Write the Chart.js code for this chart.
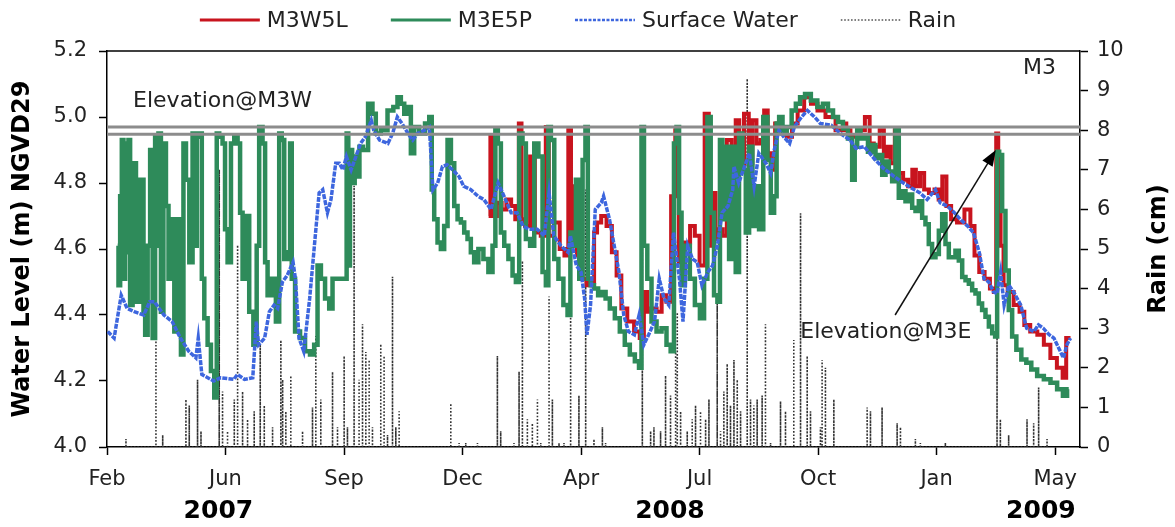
<!DOCTYPE html>
<html>
<head>
<meta charset="utf-8">
<script src="https://cdn.jsdelivr.net/npm/chart.js@4.4.0/dist/chart.umd.min.js"></script>
<style>
  html, body { margin: 0; padding: 0; background: #fff; }
  #wrap { width: 1175px; height: 527px; }
</style>
</head>
<body>
<div id="wrap"><canvas id="chart" width="1175" height="527"></canvas></div>
<script>
// x values are days counted from 27 Feb 2007, ticks every 100 days
const xMax = 821;
const monthDays = [0, 100, 200, 300, 400, 500, 600, 700, 800];
const monthLabels = ['Feb', 'Jun', 'Sep', 'Dec', 'Apr', 'Jul', 'Oct', 'Jan', 'May'];
const yearLabels = ['2007', '2008', '2009'];
const yearDays = [94, 475, 788];

// ground elevation at the two wells (m NGVD29)
const elevM3W = 4.970;
const elevM3E = 4.948;

// M3W5L well
const m3w5lDays = [322, 325, 327, 331, 335, 339, 343, 346, 349, 350.5, 355, 359, 363, 369, 371.5, 374, 380, 384, 388, 390.5,
  392.5, 395, 398, 404, 405, 410, 412, 415, 419, 424, 428, 432, 436, 442, 447.5, 451.5, 454.5, 457, 461.5, 466,
  470, 474, 478, 481, 484, 490, 494, 498, 502, 506.6, 509, 512, 515, 518, 521, 525, 529, 532, 535, 540,
  543, 546, 550, 553, 556, 559, 561.5, 566, 571, 576, 580, 585.5, 591, 597, 602, 610.5, 619, 623, 624.6, 630,
  636, 643, 644, 650, 654, 657, 660, 662.5, 667, 669.5, 674, 678, 681, 684, 688, 691, 696, 700.5, 703, 706.6,
  710, 714.5, 720, 727, 730, 734, 738, 743, 747, 749.6, 751, 753, 755, 758, 762, 768, 772, 776, 782, 788,
  793, 799, 804, 808.7, 810, 813];
const m3w5lLevels = [4.70, 4.94, 4.70, 4.74, 4.72, 4.75, 4.73, 4.69, 4.98, 4.69, 4.67, 4.88, 4.65, 4.64, 4.97, 4.64, 4.68, 4.60, 4.58, 4.96,
  4.61, 4.79, 4.58, 4.51, 4.49, 4.50, 4.65, 4.68, 4.70, 4.67, 4.59, 4.52, 4.42, 4.38, 4.35, 4.33, 4.47, 4.41, 4.42, 4.41,
  4.46, 4.44, 4.76, 4.96, 4.56, 4.62, 4.67, 4.64, 4.55, 5.01, 4.61, 4.77, 4.63, 4.66, 4.64, 4.93, 4.82, 4.99, 4.84, 5.01,
  4.86, 4.99, 4.92, 4.93, 5.02, 4.89, 4.84, 4.98, 4.96, 4.94, 4.98, 5.02, 5.06, 5.04, 5.02, 5.00, 4.96, 4.98, 4.96, 4.94,
  4.96, 5.00, 4.92, 4.91, 4.96, 4.88, 4.91, 4.86, 4.96, 4.83, 4.81, 4.79, 4.84, 4.79, 4.83, 4.78, 4.77, 4.78, 4.75, 4.82,
  4.73, 4.69, 4.68, 4.72, 4.67, 4.58, 4.53, 4.51, 4.48, 4.47, 4.95, 4.71, 4.61, 4.49, 4.47, 4.43, 4.41, 4.37, 4.35, 4.34,
  4.31, 4.27, 4.24, 4.21, 4.33, 4.33];

// M3E5P well
const m3e5pDays = [9, 10.4, 11.8, 13.2, 14.6, 16, 17.4, 18.8, 20.2, 23, 25.9, 30.1, 31.5, 32.9, 35.7, 37.1, 39.9, 41.3, 42.7, 44.1,
  46.9, 48.3, 51.2, 52.6, 55.4, 58.2, 61, 63.8, 65.2, 68.1, 70.8, 73.6, 75, 76.5, 79.3, 80.7, 83.5, 86.3, 89.1, 91.9,
  93.3, 96.1, 98.9, 100.3, 103.2, 106, 108.8, 111.6, 113, 115.8, 118.6, 121.4, 125.6, 127, 129.8, 132.7, 134.1, 136.9, 141.1, 143.9,
  146.7, 148.2, 150.9, 153.8, 155.2, 156.6, 160.8, 165, 169.2, 173.4, 176.2, 179.1, 181.9, 186.1, 188.9, 191.7, 197.3, 201.5, 202.9, 204.3,
  205.7, 208, 210, 212, 214, 218, 222.6, 225.4, 228.2, 233.9, 239.5, 243.7, 246.5, 249.4, 252.2, 255, 257.8, 260.6, 266.2, 270.5,
  273.3, 274.7, 277.5, 280.3, 283.1, 285.9, 288.8, 291.6, 294.4, 297.2, 300, 302.8, 305.6, 308.4, 311.2, 315.5, 319.7, 323.9, 326.7, 328.7,
  330.9, 333.8, 336.6, 340.8, 343.6, 346.4, 349.2, 352, 354.9, 359.1, 361.9, 366.1, 368.9, 371.7, 373.1, 376, 378.8, 383, 387.2, 390,
  392, 394.2, 397.1, 399.9, 402.7, 404.7, 406.7, 409.5, 412.3, 416.5, 419.3, 422.1, 426.4, 430.6, 434.8, 439, 443.3, 447.5, 450.3, 451.7,
  454.5, 457.3, 461.6, 465.8, 470, 474.2, 477, 479.8, 481.3, 484.1, 485.5, 489.7, 493.9, 498.2, 502.4, 505.2, 508, 510.8, 513.6, 516.5,
  517.9, 520.7, 523.5, 526.3, 529.1, 531.9, 534.7, 537.6, 540.4, 543.2, 546, 548.8, 551.6, 555.9, 558.7, 561.5, 564.3, 565.7, 568.6, 571.4,
  575.6, 579.8, 582.7, 586.9, 591.1, 596.7, 602, 606.2, 610.5, 614.7, 618.9, 623.1, 627.3, 630.2, 631.6, 634.4, 637.2, 640, 644.2, 647,
  649.9, 652.7, 655.5, 658.3, 661.1, 663.9, 666.7, 669.5, 672.3, 675.2, 678, 680.8, 683.6, 686.4, 689.2, 692, 694.8, 697.6, 700.5, 703.3,
  706.1, 708.9, 711.7, 714.5, 717.3, 720.2, 723, 725.8, 728.6, 731.4, 734.2, 737, 739.8, 742.7, 745.5, 748.3, 750.5, 751.7, 753.9, 756.7,
  759.5, 762.3, 765.2, 769.4, 773.6, 777.8, 782, 787.7, 793.3, 798.9, 804.5, 808.7, 811.5];
const m3e5pLevels = [4.61, 4.49, 4.76, 4.93, 4.51, 4.92, 4.59, 4.93, 4.43, 4.86, 4.44, 4.81, 4.41, 4.34, 4.61, 4.90, 4.33, 4.94, 4.61, 4.95,
  4.41, 4.92, 4.73, 4.51, 4.69, 4.35, 4.69, 4.28, 4.92, 4.81, 4.56, 4.95, 4.61, 4.94, 4.95, 4.51, 4.39, 4.31, 4.23, 4.15,
  4.95, 4.94, 4.92, 4.66, 4.56, 4.92, 4.94, 4.92, 4.71, 4.51, 4.70, 4.41, 4.31, 4.61, 4.97, 4.92, 4.56, 4.46, 4.51, 4.38,
  4.95, 4.93, 4.57, 4.59, 4.92, 4.51, 4.35, 4.33, 4.29, 4.28, 4.31, 4.55, 4.51, 4.45, 4.42, 4.51, 4.51, 4.51, 4.95, 4.55,
  4.90, 4.80, 4.88, 4.82, 4.91, 4.90, 5.04, 5.01, 4.95, 4.96, 5.02, 5.03, 5.06, 5.04, 5.01, 5.03, 4.89, 4.97, 4.95, 4.98,
  5.00, 4.78, 4.69, 4.62, 4.60, 4.67, 4.93, 4.86, 4.73, 4.69, 4.68, 4.65, 4.63, 4.59, 4.56, 4.60, 4.57, 4.53, 4.61, 4.96,
  4.92, 4.65, 4.61, 4.57, 4.52, 4.50, 4.95, 4.92, 4.63, 4.61, 4.92, 4.88, 4.53, 4.49, 4.97, 4.93, 4.57, 4.51, 4.43, 4.40,
  4.65, 4.61, 4.81, 4.51, 4.87, 4.97, 4.51, 4.49, 4.48, 4.46, 4.47, 4.45, 4.42, 4.39, 4.35, 4.31, 4.28, 4.26, 4.24, 4.97,
  4.61, 4.51, 4.38, 4.35, 4.36, 4.31, 4.29, 4.92, 4.97, 4.71, 4.49, 4.61, 4.51, 4.43, 4.39, 4.51, 5.00, 4.71, 4.46, 4.44,
  4.93, 4.69, 4.91, 4.57, 4.91, 4.53, 4.95, 4.84, 4.65, 4.91, 4.67, 4.79, 4.66, 5.00, 4.87, 4.71, 4.76, 4.98, 5.00, 4.95,
  4.97, 5.02, 5.04, 5.06, 5.07, 5.05, 5.03, 5.04, 5.02, 5.00, 4.985, 4.965, 4.935, 4.81, 4.91, 4.965, 4.935, 4.945, 4.895, 4.915,
  4.875, 4.885, 4.825, 4.865, 4.835, 4.805, 4.965, 4.755, 4.775, 4.745, 4.765, 4.725, 4.715, 4.745, 4.695, 4.675, 4.615, 4.575, 4.585, 4.655,
  4.705, 4.615, 4.575, 4.575, 4.595, 4.565, 4.515, 4.505, 4.495, 4.475, 4.465, 4.435, 4.415, 4.395, 4.365, 4.345, 4.335, 4.895, 4.885, 4.715,
  4.535, 4.415, 4.335, 4.295, 4.265, 4.255, 4.235, 4.215, 4.205, 4.195, 4.175, 4.155, 4.175];

// surface water stage
const surfaceDays = [0.6, 6, 12, 17, 23, 31, 36, 40, 44, 48, 55, 62, 69, 75, 77, 80, 90, 96, 107, 110,
  116, 123, 126, 128, 133, 137, 141, 144, 148, 152, 157, 159, 162, 166, 171, 175, 179, 182, 186, 189,
  193, 196, 199, 202, 206, 210, 214, 218, 223, 225, 230, 237, 241, 245, 249, 254, 258, 262, 268, 272,
  275, 279, 283, 287, 293, 297, 301, 307, 313, 318, 324, 330, 335, 341, 346, 351, 356, 363, 369, 373,
  377, 383, 389, 391, 396, 400, 403, 405, 408, 412, 417, 419, 424, 428, 432, 436, 440, 445, 449, 453,
  457, 462, 466, 470, 474, 478, 483, 486, 490, 494, 498, 502, 507, 511, 515, 519, 524, 528, 529, 533,
  538, 542, 546, 550, 556, 560, 563, 567, 571, 576, 580, 586, 591, 597, 602, 611, 619, 627, 632, 639,
  647, 655, 664, 672, 681, 686, 692, 699, 703, 709, 715, 720, 726, 731, 736, 740, 744, 748, 751, 754,
  757, 761, 765, 771, 776, 782, 786, 790, 795, 799, 803, 807, 810, 813];
const surfaceLevels = [4.35, 4.33, 4.46, 4.42, 4.41, 4.40, 4.44, 4.44, 4.42, 4.40, 4.38, 4.33, 4.29, 4.27, 4.33, 4.22, 4.20, 4.21, 4.205, 4.22,
  4.205, 4.21, 4.38, 4.31, 4.33, 4.41, 4.43, 4.42, 4.50, 4.52, 4.56, 4.51, 4.33, 4.29, 4.45, 4.61, 4.77, 4.78, 4.71, 4.75,
  4.86, 4.86, 4.84, 4.88, 4.84, 4.88, 4.92, 4.94, 4.99, 4.96, 4.93, 4.92, 4.95, 5.00, 4.98, 4.95, 4.93, 4.95, 4.96, 4.97,
  4.78, 4.80, 4.85, 4.855, 4.835, 4.82, 4.79, 4.78, 4.76, 4.75, 4.72, 4.80, 4.76, 4.71, 4.71, 4.67, 4.66, 4.66, 4.64, 4.77,
  4.64, 4.61, 4.59, 4.64, 4.55, 4.53, 4.45, 4.34, 4.43, 4.72, 4.74, 4.76, 4.69, 4.61, 4.53, 4.40, 4.35, 4.34, 4.40, 4.31,
  4.34, 4.38, 4.51, 4.45, 4.43, 4.65, 4.51, 4.38, 4.61, 4.57, 4.56, 4.49, 4.53, 4.55, 4.61, 4.71, 4.73, 4.78, 4.85, 4.80,
  4.85, 4.89, 4.79, 4.89, 4.86, 4.83, 4.90, 4.96, 4.94, 4.92, 4.97, 5.00, 5.02, 5.00, 4.98, 4.975, 4.95, 4.93, 4.905, 4.91,
  4.875, 4.845, 4.82, 4.80, 4.78, 4.77, 4.75, 4.78, 4.74, 4.73, 4.71, 4.69, 4.67, 4.65, 4.59, 4.51, 4.50, 4.47, 4.465, 4.53,
  4.43, 4.49, 4.47, 4.43, 4.36, 4.35, 4.37, 4.36, 4.34, 4.33, 4.30, 4.27, 4.31, 4.33];

// daily rain (cm)
const rainDays = [16, 41.3, 47, 66.6, 69.4, 76.4, 79.3, 94.7, 97.5, 101.7, 107.4, 110.2, 114.4, 118.6, 124.2, 129.3, 132.7, 139.7, 146.7, 148.2,
  150.9, 155.1, 165, 173.4, 176.2, 180.4, 190.3, 194.5, 200.1, 202.9, 208.5, 212.7, 215.6, 218.4, 221.2, 224, 231, 233.8, 236.7, 240.9,
  243.7, 246.5, 290.1, 297.1, 302.7, 312.6, 329.4, 332.2, 343.4, 347.7, 350.5, 354.7, 358.9, 363.2, 366, 373, 375.8, 381.4, 385.6, 391.2,
  398.2, 403.9, 410.9, 418, 420.7, 451.7, 458.7, 461.5, 467.1, 471.3, 475.5, 479.8, 481.2, 484, 489.6, 493.8, 496.6, 500.8, 505.1, 507.9,
  514.9, 517.7, 520.5, 523.3, 526.1, 529, 531.8, 534.6, 540.2, 543, 545.8, 548.6, 552.8, 555.6, 559.9, 568.3, 572.5, 579.5, 585.2, 590.8,
  593.6, 602, 603.4, 606.2, 613.3, 641.4, 644.2, 654, 666.7, 669.5, 682.1, 686.3, 707.4, 751, 753.8, 760.8, 776.3, 781.9, 786.1, 793.2];
const rainCm = [0.2, 2.9, 0.3, 1.2, 1.05, 1.7, 0.4, 7.0, 1.4, 0.4, 1.2, 5.1, 1.4, 0.7, 0.9, 2.6, 1.05, 0.5, 2.7, 1.7,
  0.9, 1.8, 0.4, 1.0, 2.8, 1.2, 1.9, 0.5, 2.3, 0.5, 6.6, 1.7, 3.1, 2.4, 2.2, 0.5, 2.6, 2.3, 0.3, 4.3,
  0.5, 0.9, 1.1, 0.1, 0.1, 0.1, 2.3, 0.4, 0.1, 1.9, 4.7, 0.7, 0.6, 1.2, 0.1, 3.8, 1.2, 0.1, 0.1, 4.4,
  1.3, 6.5, 0.2, 0.5, 0.1, 5.2, 0.4, 0.5, 0.4, 1.8, 1.3, 2.4, 3.4, 0.9, 0.4, 0.7, 1.05, 0.9, 0.7, 1.2,
  3.7, 0.4, 1.4, 2.1, 1.05, 2.2, 1.7, 0.9, 9.3, 1.2, 1.05, 1.2, 1.3, 3.1, 0.1, 1.15, 0.9, 2.7, 5.9, 2.3,
  0.9, 0.5, 2.2, 2.0, 1.2, 1.0, 0.9, 1.0, 0.6, 0.5, 0.2, 0.1, 0.1, 6.8, 0.7, 0.3, 0.7, 0.6, 1.5, 0.2];

const FONT = '"DejaVu Sans", Verdana, sans-serif';

function toPoints(days, values) {
  return days.map((d, i) => ({ x: d, y: values[i] }));
}

// each rain day is drawn as a drop line from zero
function toSpikes(days, values) {
  const pts = [];
  days.forEach((d, i) => {
    pts.push({ x: d, y: 0 }, { x: d, y: values[i] }, { x: d, y: 0 });
  });
  return pts;
}

// legend, frame, notes and year labels
const decorPlugin = {
  id: 'decor',
  afterDatasetsDraw(chart) {
    const { ctx, chartArea: area, scales: { x, y } } = chart;
    ctx.save();

    // top edge of the frame
    ctx.strokeStyle = '#000';
    ctx.lineWidth = 1.5;
    ctx.beginPath();
    ctx.moveTo(area.left, area.top);
    ctx.lineTo(area.right, area.top);
    ctx.stroke();

    ctx.fillStyle = '#222';
    ctx.font = '22px ' + FONT;
    ctx.textBaseline = 'middle';
    ctx.textAlign = 'left';
    ctx.fillText('Elevation@M3W', x.getPixelForValue(22), y.getPixelForValue(5.048));
    ctx.fillText('Elevation@M3E', x.getPixelForValue(585), y.getPixelForValue(4.348));
    ctx.textAlign = 'right';
    ctx.fillText('M3', area.right - 24, area.top + 17);

    // arrow to the M3E elevation
    const x0 = x.getPixelForValue(665), y0 = y.getPixelForValue(4.40);
    const x1 = x.getPixelForValue(750), y1 = y.getPixelForValue(4.90);
    const ang = Math.atan2(y1 - y0, x1 - x0);
    ctx.strokeStyle = '#111';
    ctx.lineWidth = 1.5;
    ctx.beginPath();
    ctx.moveTo(x0, y0);
    ctx.lineTo(x1 - 10 * Math.cos(ang), y1 - 10 * Math.sin(ang));
    ctx.stroke();
    ctx.fillStyle = '#000';
    ctx.beginPath();
    ctx.moveTo(x1, y1);
    ctx.lineTo(x1 - 16 * Math.cos(ang) + 6 * Math.sin(ang), y1 - 16 * Math.sin(ang) - 6 * Math.cos(ang));
    ctx.lineTo(x1 - 16 * Math.cos(ang) - 6 * Math.sin(ang), y1 - 16 * Math.sin(ang) + 6 * Math.cos(ang));
    ctx.closePath();
    ctx.fill();
    ctx.restore();
  },
  afterDraw(chart) {
    const { ctx, chartArea: area, scales: { x } } = chart;
    ctx.save();

    // years under the month ticks
    ctx.fillStyle = '#000';
    ctx.font = 'bold 25px ' + FONT;
    ctx.textAlign = 'center';
    ctx.textBaseline = 'middle';
    yearLabels.forEach((t, i) => ctx.fillText(t, x.getPixelForValue(yearDays[i]), area.bottom + 64));

    // right axis title, reading bottom to top like the left one
    ctx.font = 'bold 24px ' + FONT;
    ctx.translate(1159, (area.top + area.bottom) / 2);
    ctx.rotate(-Math.PI / 2);
    ctx.fillText('Rain (cm)', 0, 0);
    ctx.restore();

    // legend along the top
    ctx.save();
    ctx.font = '22px ' + FONT;
    ctx.textBaseline = 'middle';
    ctx.textAlign = 'left';
    const items = chart.data.datasets.filter(ds => !ds.noLegend);
    const sample = 60, gap = 7, spacing = 43;
    const widths = items.map(ds => sample + gap + ctx.measureText(ds.label).width);
    const total = widths.reduce((a, b) => a + b, 0) + spacing * (items.length - 1);
    let lx = 578 - total / 2;
    const ly = 20;
    items.forEach((ds, i) => {
      ctx.strokeStyle = ds.legendColor || ds.borderColor;
      ctx.lineWidth = ds.legendWidth || ds.borderWidth;
      ctx.setLineDash(ds.legendDash || ds.borderDash || []);
      ctx.beginPath();
      ctx.moveTo(lx, ly);
      ctx.lineTo(lx + sample, ly);
      ctx.stroke();
      ctx.setLineDash([]);
      ctx.fillStyle = '#222';
      ctx.fillText(ds.label, lx + sample + gap, ly + 1);
      lx += widths[i] + spacing;
    });
    ctx.restore();
  }
};

const tickFont = { family: FONT, size: 21 };

new Chart(document.getElementById('chart'), {
  type: 'line',
  data: {
    datasets: [
      {
        label: 'M3W5L',
        data: toPoints(m3w5lDays, m3w5lLevels),
        borderColor: '#c8141e',
        borderWidth: 4,
        stepped: 'middle',
        legendWidth: 3,
        order: 2,
        yAxisID: 'y'
      },
      {
        label: 'M3E5P',
        data: toPoints(m3e5pDays, m3e5pLevels),
        borderColor: '#2e8b5a',
        borderWidth: 4.5,
        stepped: 'middle',
        legendWidth: 3,
        order: 1,
        yAxisID: 'y'
      },
      {
        label: 'Surface Water',
        data: toPoints(surfaceDays, surfaceLevels),
        borderColor: '#3d66de',
        borderWidth: 3.5,
        borderDash: [5, 1.2],
        legendDash: [3, 1.5],
        legendWidth: 2.5,
        order: 0,
        yAxisID: 'y'
      },
      {
        label: 'Rain',
        data: toSpikes(rainDays, rainCm),
        borderColor: '#333',
        legendColor: '#555',
        borderWidth: 1.6,
        legendWidth: 1.5,
        borderDash: [1.6, 1.8],
        order: 3,
        yAxisID: 'y1'
      },
      {
        label: 'Elevation@M3W',
        noLegend: true,
        data: [{ x: 0, y: elevM3W }, { x: xMax, y: elevM3W }],
        borderColor: '#8c8c8c',
        borderWidth: 3,
        order: -1,
        yAxisID: 'y'
      },
      {
        label: 'Elevation@M3E',
        noLegend: true,
        data: [{ x: 0, y: elevM3E }, { x: xMax, y: elevM3E }],
        borderColor: '#8c8c8c',
        borderWidth: 3,
        order: -1,
        yAxisID: 'y'
      }
    ]
  },
  options: {
    responsive: false,
    animation: false,
    devicePixelRatio: 1,
    layout: { padding: { top: 51, left: 0, right: 0, bottom: 0 } },
    elements: {
      point: { radius: 0 },
      line: { tension: 0, fill: false }
    },
    plugins: {
      legend: { display: false },
      tooltip: { enabled: false }
    },
    scales: {
      x: {
        type: 'linear',
        min: 0,
        max: xMax,
        afterBuildTicks: axis => { axis.ticks = monthDays.map(v => ({ value: v })); },
        afterFit: s => { s.height = 80; },
        ticks: {
          font: tickFont,
          color: '#222',
          padding: 12,
          maxRotation: 0,
          autoSkip: false,
          callback: v => monthLabels[monthDays.indexOf(v)]
        },
        grid: { drawOnChartArea: false, tickLength: 8, tickColor: '#000', tickWidth: 1.5 },
        border: { color: '#000', width: 1.5 }
      },
      y: {
        position: 'left',
        min: 4.0,
        max: 5.2,
        afterFit: s => { s.width = 107; },
        ticks: {
          stepSize: 0.2,
          font: tickFont,
          color: '#222',
          padding: 12,
          callback: v => v.toFixed(1)
        },
        title: {
          display: true,
          text: 'Water Level (m) NGVD29',
          font: { family: FONT, size: 24, weight: 'bold' },
          color: '#000',
          padding: { top: 8, bottom: 0 }
        },
        grid: { drawOnChartArea: false, tickLength: 8, tickColor: '#000', tickWidth: 1.5 },
        border: { color: '#000', width: 1.5 }
      },
      y1: {
        position: 'right',
        min: 0,
        max: 10,
        afterFit: s => { s.width = 95; },
        ticks: {
          stepSize: 1,
          font: tickFont,
          color: '#222',
          padding: 9
        },
        grid: { drawOnChartArea: false, tickLength: 8, tickColor: '#000', tickWidth: 1.5 },
        border: { color: '#000', width: 1.5 }
      }
    }
  },
  plugins: [decorPlugin]
});
</script>
</body>
</html>
